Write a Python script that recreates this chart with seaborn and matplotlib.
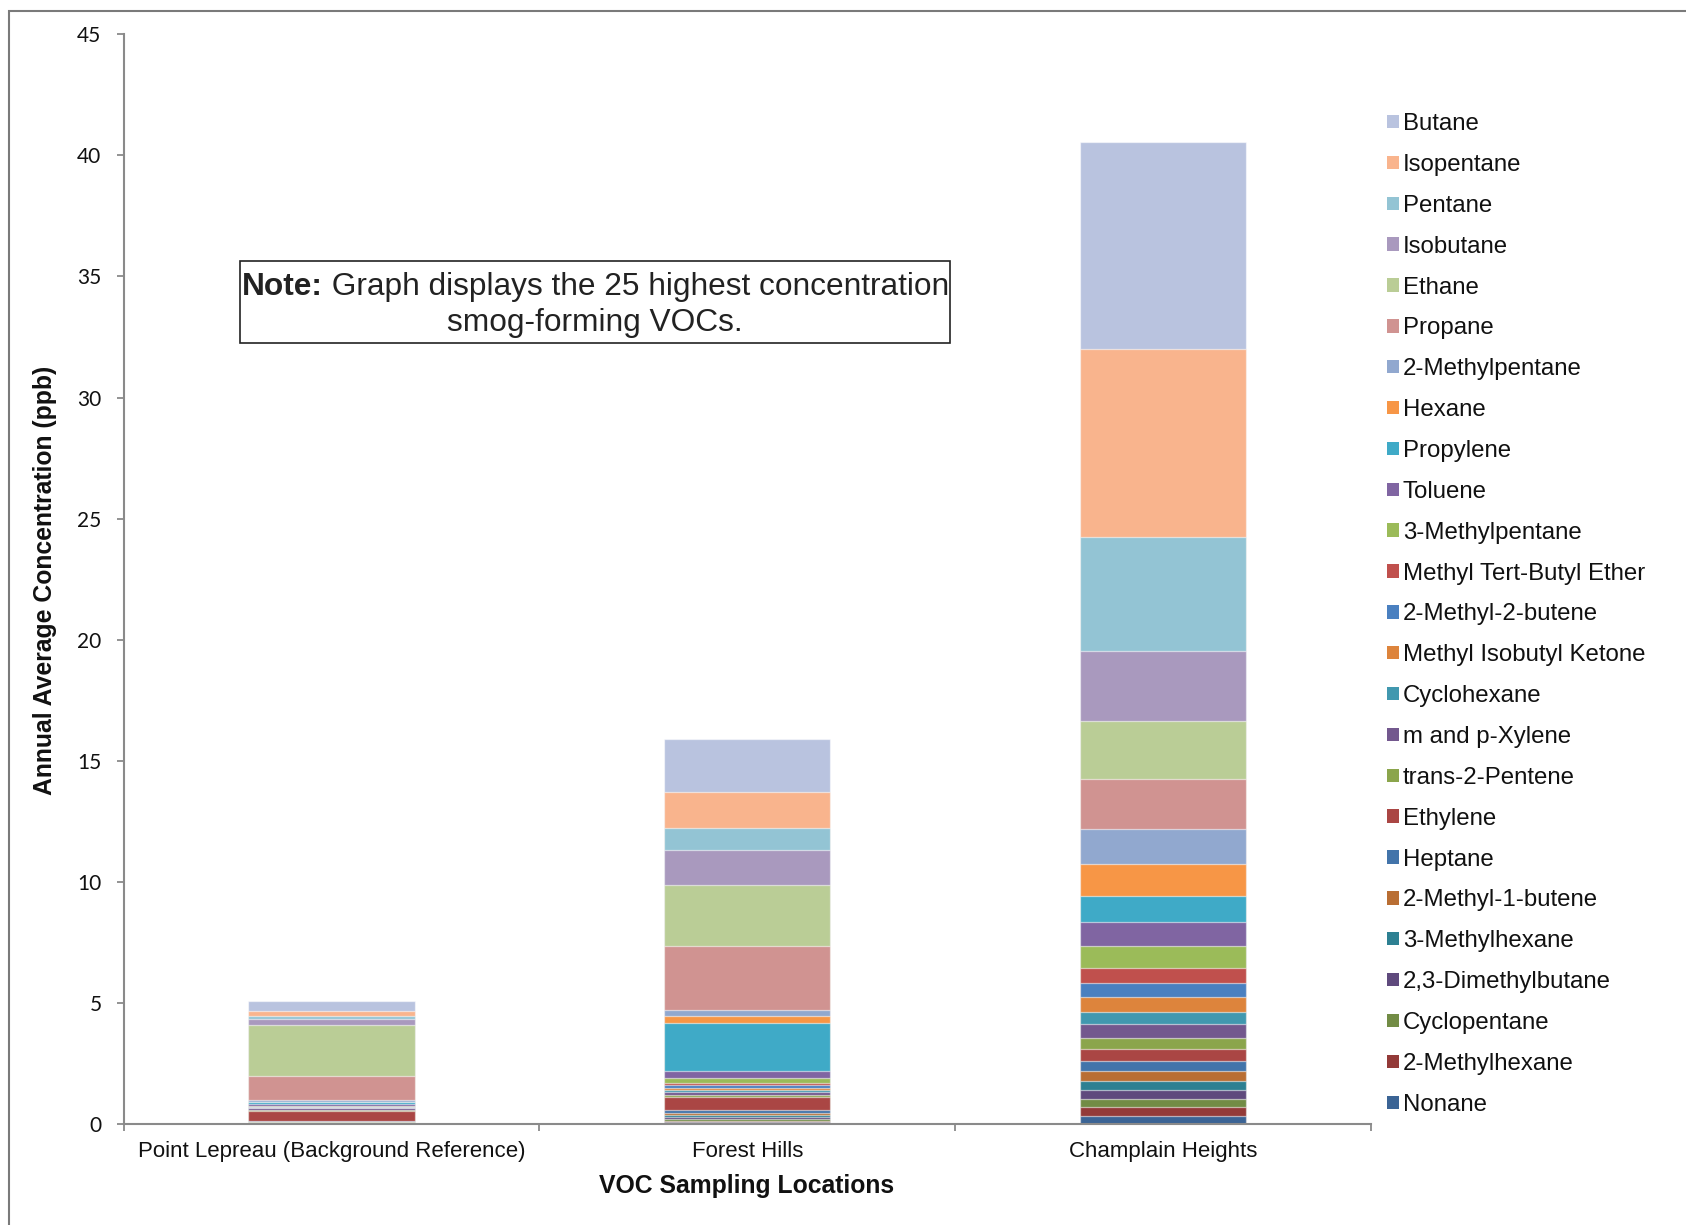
import matplotlib
matplotlib.use("Agg")
import matplotlib.pyplot as plt
import matplotlib.patches as mpatches
import numpy as np
import seaborn as sns

# sampling sites (x axis)
locations = ["Point Lepreau (Background Reference)", "Forest Hills", "Champlain Heights"]

# compounds, listed top of stack -> bottom (same order as the legend)
compounds = [
    "Butane", "Isopentane", "Pentane", "Isobutane", "Ethane", "Propane",
    "2-Methylpentane", "Hexane", "Propylene", "Toluene", "3-Methylpentane",
    "Methyl Tert-Butyl Ether", "2-Methyl-2-butene", "Methyl Isobutyl Ketone",
    "Cyclohexane", "m and p-Xylene", "trans-2-Pentene", "Ethylene", "Heptane",
    "2-Methyl-1-butene", "3-Methylhexane", "2,3-Dimethylbutane",
    "Cyclopentane", "2-Methylhexane", "Nonane",
]

# annual average concentration (ppb), same order as compounds
point_lepreau = [0.41, 0.21, 0.14, 0.22, 2.12, 1.00, 0.06, 0.02, 0.08, 0.08, 0.03,
                 0.02, 0.02, 0.01, 0.02, 0.07, 0.02, 0.43, 0.02, 0.01, 0.01, 0.02,
                 0.02, 0.01, 0.02]
forest_hills = [2.18, 1.49, 0.93, 1.42, 2.52, 2.66, 0.26, 0.26, 2.01, 0.28, 0.19,
                0.11, 0.10, 0.10, 0.07, 0.14, 0.07, 0.55, 0.10, 0.10, 0.07, 0.08,
                0.07, 0.07, 0.06]
champlain_heights = [8.55, 7.74, 4.71, 2.89, 2.40, 2.09, 1.42, 1.33, 1.07, 1.00, 0.90,
                     0.64, 0.58, 0.60, 0.52, 0.58, 0.45, 0.47, 0.41, 0.41, 0.38, 0.37,
                     0.36, 0.37, 0.30]

colors = [
    "#B9C3DF", "#F9B48D", "#93C4D4", "#A999BE", "#BACD96", "#D09391",
    "#91A8CF", "#F79646", "#3FAAC7", "#8065A2", "#9BBB59",
    "#C0504D", "#4A80C0", "#DD843C",
    "#4198AF", "#73588E", "#8BA54C", "#AA4644", "#4274AA",
    "#B96E33", "#2D8092", "#5F4A7D",
    "#728C45", "#933A38", "#3B6495",
]

sns.set_style("white")
plt.rcParams["font.family"] = ["Liberation Sans", "DejaVu Sans"]

fig = plt.figure(figsize=(16.86, 12.25), dpi=100)
ax = fig.add_axes([0.0734, 0.0827, 0.7396, 0.8892])

# stacked bars: draw cumulative totals from the top down, each one over the last
values = np.array([point_lepreau, forest_hills, champlain_heights])  # (site, compound)
tops = np.cumsum(values[:, ::-1], axis=1)[:, ::-1]  # top of each compound's segment
for i, name in enumerate(compounds):
    sns.barplot(x=locations, y=tops[:, i], color=colors[i], saturation=1,
                width=0.4, errorbar=None, ax=ax,
                edgecolor=(1, 1, 1, 0.55), linewidth=0.9)

ax.set_ylim(0, 45)
ax.set_xlim(-0.5, 2.5)
ax.set_yticks(range(0, 46, 5))
ax.set_xlabel("")
ax.set_ylabel("")

for s in ["top", "right"]:
    ax.spines[s].set_visible(False)
for s in ["left", "bottom"]:
    ax.spines[s].set_color("#8a8a8a")
    ax.spines[s].set_linewidth(1.5)

ax.tick_params(axis="y", which="major", direction="out", length=5, width=1.3,
               color="#8a8a8a", pad=11, labelsize=15, labelcolor="#111111", left=True)
for lab in ax.get_yticklabels():
    lab.set_family(["Lato", "DejaVu Sans"])
ax.set_xticks([-0.5, 0.5, 1.5, 2.5], minor=True)
ax.tick_params(axis="x", which="minor", direction="out", length=5, width=1.3,
               color="#8a8a8a", bottom=True)
ax.tick_params(axis="x", which="major", length=0, pad=12.5, labelsize=16,
               labelcolor="#111111")

# axis titles
fig.text(747 / 1686, 1 - 1186 / 1225, "VOC Sampling Locations", ha="center",
         va="center", fontsize=17.8, fontweight="bold", color="#111111")
fig.text(45 / 1686, 0.526, "Annual Average Concentration (ppb)", ha="center",
         va="center", rotation=90, fontsize=17.8, fontweight="bold", color="#111111")

# note box
ax.add_patch(mpatches.Rectangle((0.0932, 0.717), 0.5698, 0.075, transform=ax.transAxes,
                                fill=False, edgecolor="#222222", linewidth=1.2))
note = ax.text(0.0950, 0.761, "Note:", transform=ax.transAxes, fontsize=22.8,
               fontweight="bold", color="#222222", va="baseline", ha="left")
ax.annotate(" Graph displays the 25 highest concentration", xy=(1, 0), xycoords=note,
            va="bottom", ha="left", fontsize=22.8, color="#222222")
ax.text(0.378, 0.728, "smog-forming VOCs.", transform=ax.transAxes, fontsize=22.8,
        color="#222222", va="baseline", ha="center")

# legend
handles = [mpatches.Patch(facecolor=c, edgecolor="none") for c in colors]
fig.legend(handles, compounds, loc="upper left", bbox_to_anchor=(0.8227, 0.9077),
           frameon=False, fontsize=17.3, handlelength=0.48, handleheight=0.48,
           handletextpad=0.18, labelspacing=0.785, borderpad=0, borderaxespad=0,
           labelcolor="#111111")

# outer frame of the chart area
fig.add_artist(mpatches.Rectangle((0.0051, -0.05), 1.2, 1.0456 - 0.0044,
                                  transform=fig.transFigure, fill=False,
                                  edgecolor="#7a7a7a", linewidth=1.5))

fig.savefig("out.png", dpi=100)
